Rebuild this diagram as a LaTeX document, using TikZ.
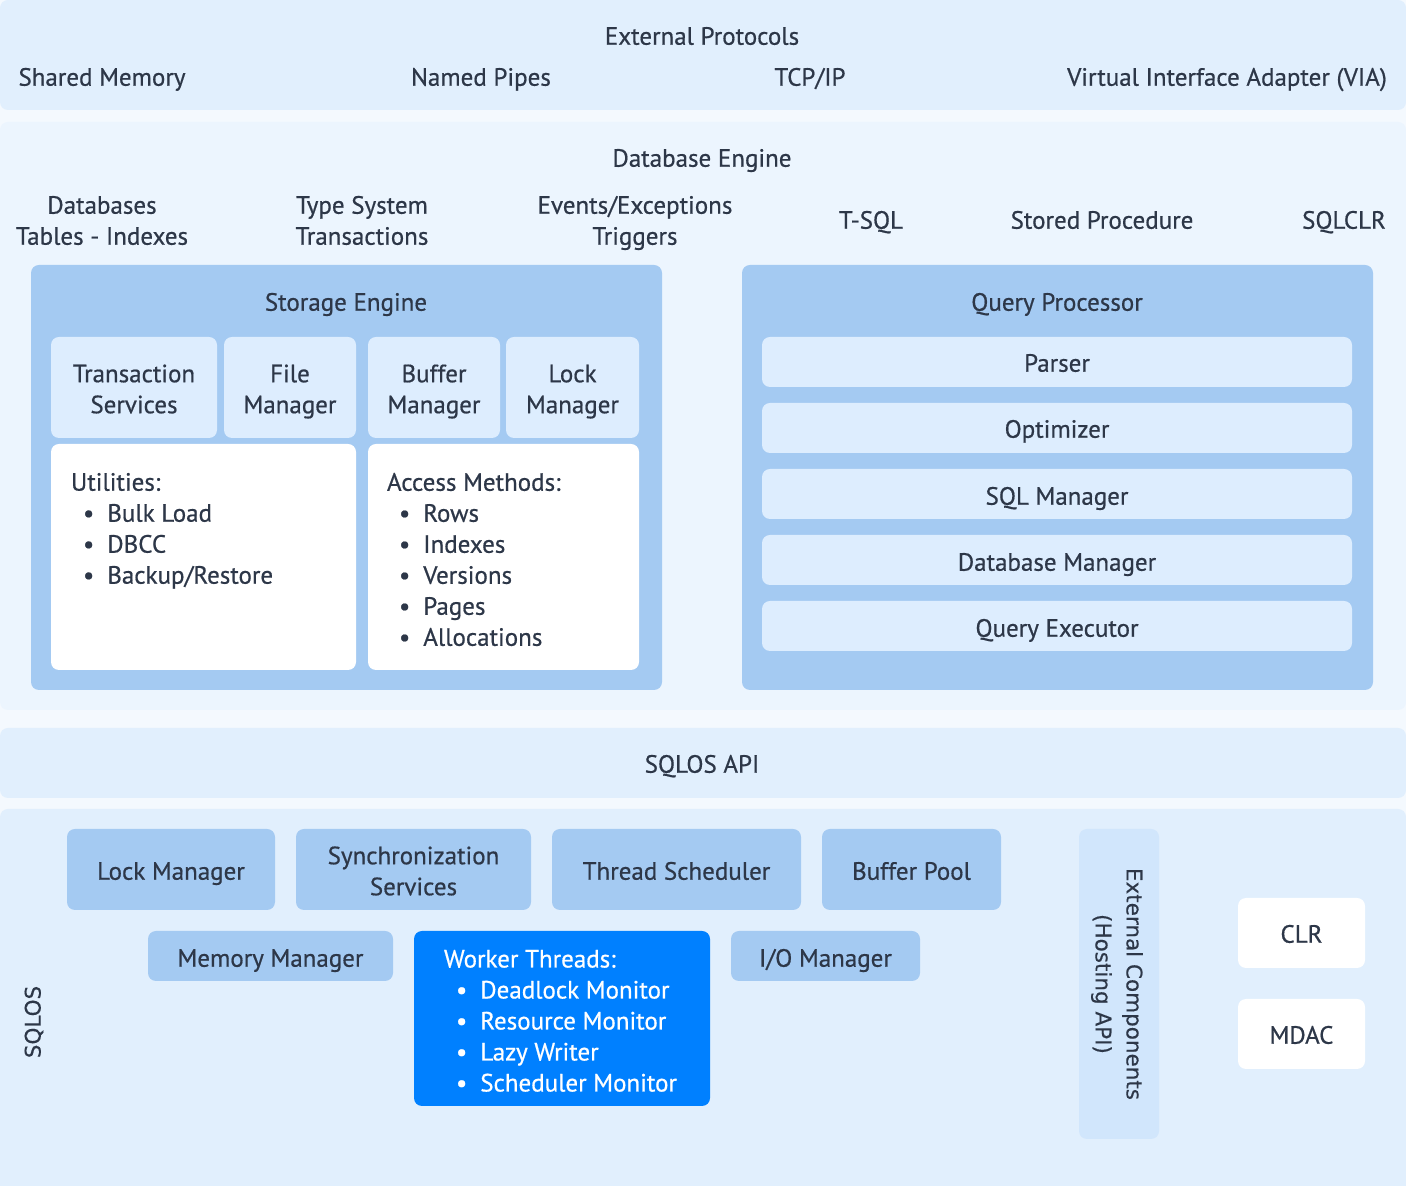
\documentclass[tikz,border=0pt]{standalone}
\usepackage{fontspec}
\setmainfont{PT Sans}[FakeBold=0.6]
\newfontfamily\rotfont{DejaVu Sans}[FakeBold=0.3]

\tikzset{
  txt/.style={text=textColor,inner sep=0pt,outer sep=0pt,align=center,
    font=\fontsize{25}{31}\selectfont},
  lbl/.style={txt,text height=22pt,text depth=4.5pt},
  two/.style={txt,text height=53pt,text depth=4.5pt},
  lst/.style={txt,align=left,anchor=north west},
  vlbl/.style={txt,font=\rotfont\fontsize{21.5}{31}\selectfont},
  box/.style={rounded corners=8pt}
}
\newcommand{\itm}{\hspace*{12pt}\textbullet\hspace{13pt}}

\begin{document}
\begin{tikzpicture}[x=1pt,y=1pt]
\definecolor{pageColor}{RGB}{244,249,254}
\definecolor{bandColor}{RGB}{225,239,253}
\definecolor{engineColor}{RGB}{236,245,254}
\definecolor{groupColor}{RGB}{164,202,242}
\definecolor{cellColor}{RGB}{221,237,254}
\definecolor{hostColor}{RGB}{209,230,252}
\definecolor{workerColor}{RGB}{0,128,255}
\definecolor{textColor}{RGB}{45,55,72}
\path[use as bounding box,fill=pageColor] (0,0) rectangle (1406,1186);
\begin{scope}
\path[clip] (0,0) rectangle (1406,1186);

% external protocols
\path[box,fill=bandColor] (0,1076) rectangle (1406,1186);
\node[lbl] (extprot) at (702,1150) {External Protocols};
\node[lbl] (shmem) at (102,1109) {Shared Memory};
\node[lbl] (pipes) at (481,1109) {Named Pipes};
\node[lbl] (tcpip) at (810,1109) {TCP/IP};
\node[lbl] (via) at (1227,1109) {Virtual Interface Adapter (VIA)};

% database engine
\path[box,fill=engineColor] (0,476) rectangle (1406,1064);
\node[lbl] (dbengine) at (702,1028) {Database Engine};
\node[two] (dbs) at (102,965.5) {Databases\\Tables - Indexes};
\node[two] (types) at (362,965.5) {Type System\\Transactions};
\node[two] (events) at (635,965.5) {Events/Exceptions\\Triggers};
\node[lbl] (tsql) at (871,966) {T-SQL};
\node[lbl] (sproc) at (1102,966) {Stored Procedure};
\node[lbl] (sqlclr) at (1344,966) {SQLCLR};

% storage engine
\path[box,fill=groupColor] (31,496) rectangle (662,921);
\node[lbl] (storage) at (346,884) {Storage Engine};
\path[box,fill=cellColor] (51,748) rectangle (217,849);
\path[box,fill=cellColor] (224,748) rectangle (356,849);
\path[box,fill=cellColor] (368,748) rectangle (500,849);
\path[box,fill=cellColor] (506,748) rectangle (639,849);
\node[two] (txsvc) at (134,797) {Transaction\\Services};
\node[two] (filemgr) at (290,797) {File\\Manager};
\node[two] (bufmgr) at (434,797) {Buffer\\Manager};
\node[two] (lockmgr) at (572.5,797) {Lock\\Manager};
\path[box,fill=white] (51,516) rectangle (356,742);
\path[box,fill=white] (368,516) rectangle (639,742);
\node[lst] (utils) at (71,713) {Utilities:\\\itm Bulk Load\\\itm DBCC\\\itm Backup/Restore};
\node[lst] (access) at (387,713) {Access Methods:\\\itm Rows\\\itm Indexes\\\itm Versions\\\itm Pages\\\itm Allocations};

% query processor
\path[box,fill=groupColor] (742,496) rectangle (1373,921);
\node[lbl] (qproc) at (1057,884) {Query Processor};
\path[box,fill=cellColor] (762,799) rectangle (1352,849);
\path[box,fill=cellColor] (762,733) rectangle (1352,783);
\path[box,fill=cellColor] (762,667) rectangle (1352,717);
\path[box,fill=cellColor] (762,601) rectangle (1352,651);
\path[box,fill=cellColor] (762,535) rectangle (1352,585);
\node[lbl] (parser) at (1057,823) {Parser};
\node[lbl] (optim) at (1057,757) {Optimizer};
\node[lbl] (sqlmgr) at (1057,690) {SQL Manager};
\node[lbl] (dbmgr) at (1057,624) {Database Manager};
\node[lbl] (qexec) at (1057,558) {Query Executor};

% sqlos api
\path[box,fill=bandColor] (0,388) rectangle (1406,458);
\node[lbl] (api) at (702,422) {SQLOS API};

% sqlos
\path[box,fill=bandColor] (0,-20) rectangle (1406,377);
\node[vlbl,rotate=90] (sqlos) at (34,164) {SQLOS};
\path[box,fill=groupColor] (67,276) rectangle (275,357);
\path[box,fill=groupColor] (296,276) rectangle (531,357);
\path[box,fill=groupColor] (552,276) rectangle (801,357);
\path[box,fill=groupColor] (822,276) rectangle (1001,357);
\node[lbl] (oslock) at (171,315) {Lock Manager};
\node[two] (sync) at (413.5,315) {Synchronization\\Services};
\node[lbl] (sched) at (676.5,315) {Thread Scheduler};
\node[lbl] (bufpool) at (911.5,315) {Buffer Pool};
\path[box,fill=groupColor] (148,205) rectangle (393,255);
\path[box,fill=groupColor] (731,205) rectangle (920,255);
\node[lbl] (memmgr) at (270.5,228) {Memory Manager};
\node[lbl] (iomgr) at (825.5,228) {I/O Manager};
\path[box,fill=workerColor] (414,80) rectangle (710,255);
\node[lst,text=white] (workers) at (444,236) {Worker Threads:\\\itm Deadlock Monitor\\\itm Resource Monitor\\\itm Lazy Writer\\\itm Scheduler Monitor};
\path[box,fill=hostColor] (1079,47) rectangle (1159,357);
\node[vlbl,rotate=-90] (hosting) at (1117,202) {External Components\\(Hosting API)};
\path[box,fill=white] (1238,218) rectangle (1365,288);
\path[box,fill=white] (1238,117) rectangle (1365,187);
\node[lbl] (clr) at (1301.5,252) {CLR};
\node[lbl] (mdac) at (1301.5,151) {MDAC};
\end{scope}
\end{tikzpicture}
\end{document}
